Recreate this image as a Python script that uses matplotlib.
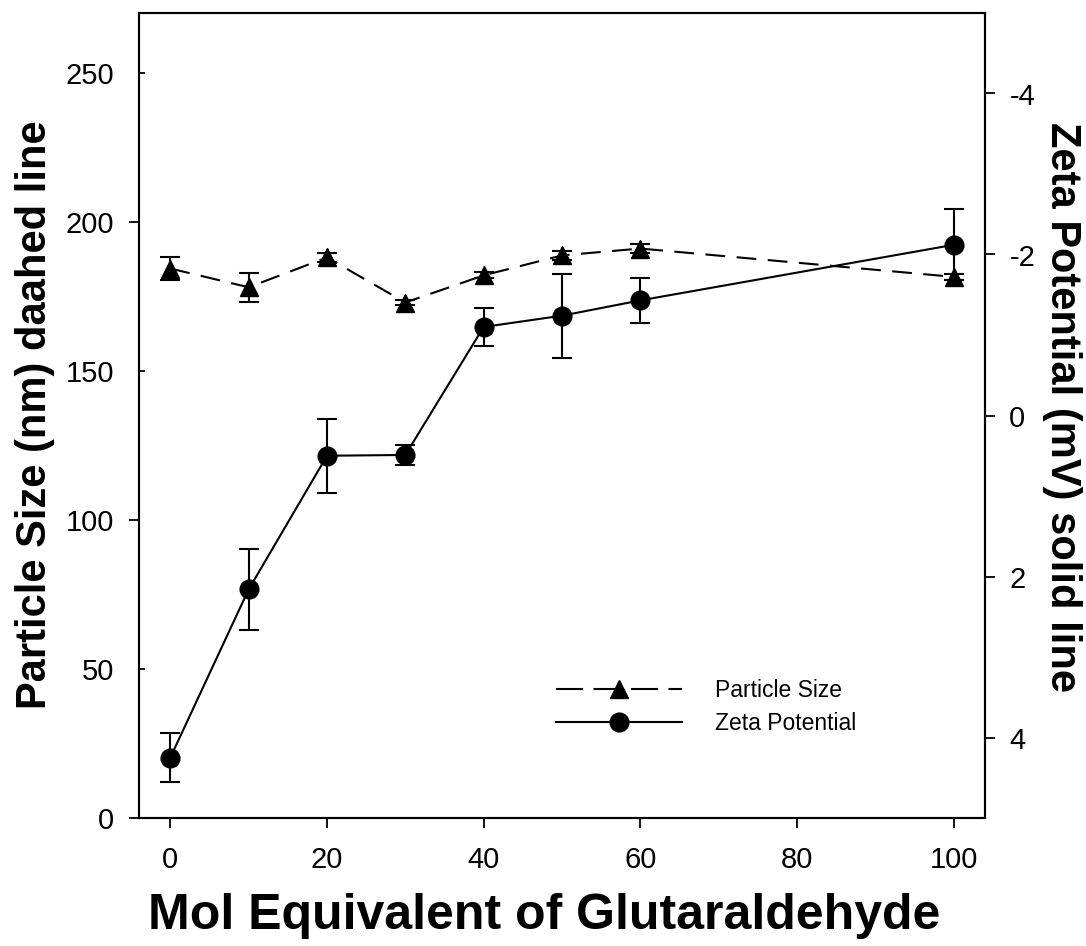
import matplotlib
matplotlib.use("Agg")
import matplotlib.pyplot as plt
from matplotlib.lines import Line2D

plt.rcParams["font.family"] = ["Liberation Sans", "DejaVu Sans"]
plt.rcParams["axes.unicode_minus"] = False

# data
mol_equiv = [0, 10, 20, 30, 40, 50, 60, 100]
particle_size = [184.3, 178.0, 188.0, 172.9, 182.0, 188.7, 191.0, 181.5]
particle_err = [4.0, 4.9, 1.5, 1.0, 1.0, 1.5, 1.5, 1.0]
zeta = [4.25, 2.16, 0.50, 0.49, -1.10, -1.24, -1.43, -2.12]
zeta_err = [0.30, 0.50, 0.46, 0.12, 0.24, 0.52, 0.28, 0.44]

x_ticks = [0, 20, 40, 60, 80, 100]
left_major = [0, 100, 200]
left_minor = [50, 150, 250]
right_ticks = [-4, -2, 0, 2, 4]

W, H = 1086, 946
fig = plt.figure(figsize=(W / 100, H / 100), dpi=100)
ax = fig.add_axes([139 / W, 1 - 818 / H, (985 - 139) / W, (818 - 13) / H])
ax2 = ax.twinx()

lw = 1.5
ax.errorbar(mol_equiv, particle_size, yerr=particle_err, color="black",
            lw=lw, dashes=(9.5, 5.5), marker="^", ms=13.5, capsize=7.5,
            capthick=lw, elinewidth=lw)
ax2.errorbar(mol_equiv, zeta, yerr=zeta_err, color="black", lw=lw,
             marker="o", ms=13.5, capsize=7.5, capthick=lw, elinewidth=lw)

ax.set_xlim(-4, 104)
ax.set_ylim(0, 270)
ax2.set_ylim(5, -5)

for a in (ax, ax2):
    for s in a.spines.values():
        s.set_linewidth(1.5)

ax.set_xticks(x_ticks)
ax.tick_params(axis="x", direction="out", length=7.5, width=1.3,
               labelsize=21, pad=13, top=False)
ax.set_yticks(left_major)
ax.set_yticks(left_minor, minor=True)
ax.set_yticklabels([str(v) for v in left_minor], minor=True)
ax.tick_params(axis="y", which="major", direction="out", length=7.5,
               width=1.3, labelsize=21, pad=10.5)
ax.tick_params(axis="y", which="minor", direction="in", length=4.5,
               width=1.3, labelsize=21, pad=18)
ax2.set_yticks(right_ticks)
ax2.tick_params(axis="y", direction="out", length=7.5, width=1.3,
                labelsize=21, pad=10)

# axis titles placed where the reference has them
fig.text(544 / W, 1 - 916 / H, "Mol Equivalent of Glutaraldehyde",
         fontsize=36, fontweight="bold", ha="center", va="center")
fig.text(35 / W, 1 - 415 / H, "Particle Size (nm) daahed line",
         fontsize=30, fontweight="bold", rotation=90, ha="center",
         va="center")
fig.text(1062 / W, 1 - 407 / H, "Zeta Potential (mV) solid line",
         fontsize=30, fontweight="bold", rotation=270, ha="center",
         va="center")

handles = [
    Line2D([], [], color="black", lw=lw, dashes=(13, 5), marker="^", ms=13.5),
    Line2D([], [], color="black", lw=lw, marker="o", ms=13.5),
]
ax2.legend(handles, ["Particle Size", "Zeta Potential"], frameon=False,
           fontsize=16.5, handlelength=5.5, handletextpad=1.45,
           labelspacing=0.45, borderpad=0, borderaxespad=0,
           loc="upper left", bbox_to_anchor=(556 / W, 1 - 679 / H),
           bbox_transform=fig.transFigure)

fig.savefig("out.png", dpi=100)
